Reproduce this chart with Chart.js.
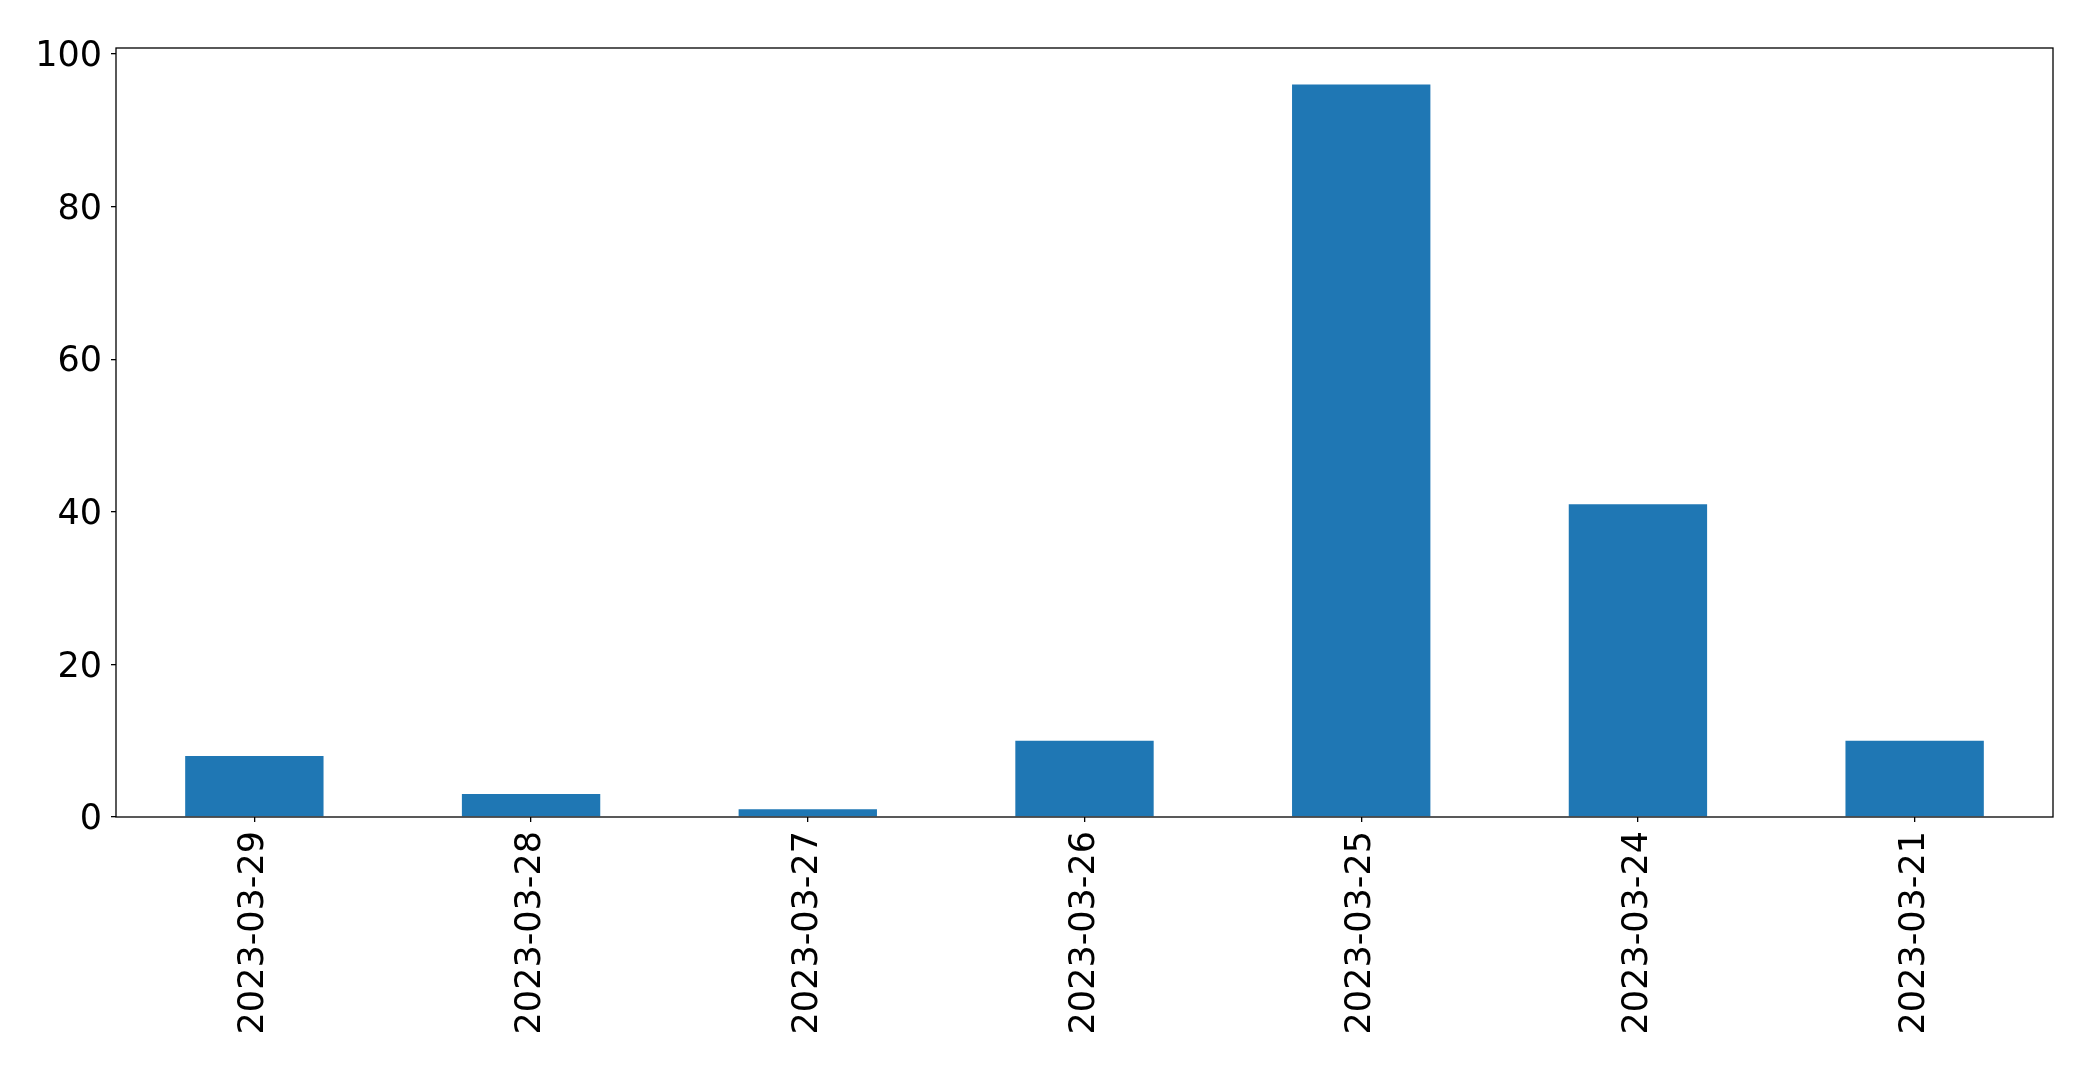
<!DOCTYPE html>
<html>
<head>
<meta charset="utf-8">
<script src="https://cdn.jsdelivr.net/npm/chart.js@4/dist/chart.umd.min.js"></script>
<style>
  html, body { margin:0; padding:0; background:#fff; }
  #wrap { width:2093px; height:1069px; }
</style>
</head>
<body>
<div id="wrap"><canvas id="chart" width="2093" height="1069"></canvas></div>
<script>
// categories and values
const dates = ['2023-03-29','2023-03-28','2023-03-27','2023-03-26','2023-03-25','2023-03-24','2023-03-21'];
const counts = [8, 3, 1, 10, 96, 41, 10];
const yTicks = [0, 20, 40, 60, 80, 100];
const yMax = 100.8;

const FONT = { family:'"DejaVu Sans"', size:35 };

// black frame round the plot, like matplotlib's spines
const frame = {
  id:'frame',
  afterDraw(c) {
    const a = c.chartArea, ctx = c.ctx;
    ctx.save();
    ctx.strokeStyle = '#000';
    ctx.lineWidth = 1.3;
    ctx.strokeRect(a.left, a.top, a.right - a.left, a.bottom - a.top);
    ctx.restore();
  }
};

new Chart(document.getElementById('chart'), {
  type:'bar',
  data:{ labels:dates, datasets:[{ data:counts, backgroundColor:'#1f77b4', borderWidth:0, barPercentage:0.5, categoryPercentage:1 }] },
  options:{
    responsive:false, animation:false,
    layout:{ padding:{ top:48, right:40, left:0, bottom:0 } },
    plugins:{ legend:{display:false}, tooltip:{enabled:false} },
    scales:{
      x:{
        grid:{ offset:false, drawOnChartArea:false, drawTicks:true, tickLength:5, color:'#000', lineWidth:1.3 },
        border:{ display:false },
        ticks:{ color:'#000', font:FONT, maxRotation:90, minRotation:90, padding:9, autoSkip:false },
        afterFit(ax){ ax.height = 1069 - 817; }
      },
      y:{
        min:0, max:yMax,
        grid:{ drawOnChartArea:false, drawTicks:true, tickLength:5, color:'#000', lineWidth:1.3 },
        border:{ display:false },
        ticks:{ color:'#000', font:FONT, padding:9, labelOffset:3 },
        afterBuildTicks(ax){ ax.ticks = yTicks.map(v => ({ value:v })); },
        afterFit(ax){ ax.width = 116; }
      }
    }
  },
  plugins:[frame]
});
</script>
</body>
</html>
